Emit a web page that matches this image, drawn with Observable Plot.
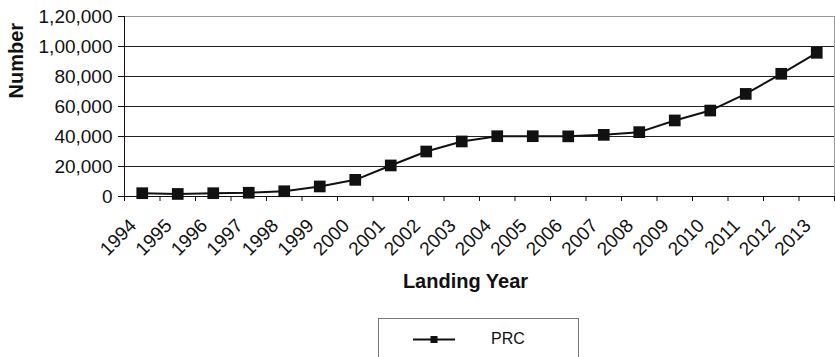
<!DOCTYPE html>
<html>
<head>
<meta charset="utf-8">
<script src="https://cdn.jsdelivr.net/npm/d3@7"></script>
<script src="https://cdn.jsdelivr.net/npm/@observablehq/plot@0.6"></script>
<style>
  html, body { margin: 0; padding: 0; background: #fff; }
  body { width: 835px; height: 357px; overflow: hidden; font-family: "Liberation Sans", Arial, sans-serif; }
  #legend {
    margin-left: 378px; margin-top: 6px; width: 201px; height: 60px;
    border: 1px solid #777; box-sizing: border-box; position: relative;
  }
  #legend svg { position: absolute; left: 0; top: 0; }
  #legend span { position: absolute; left: 112px; top: 11px; font-size: 16px; color: #111; }
</style>
</head>
<body>
<div id="chart"></div>
<div id="legend"></div>
<script>
// Landing years and yearly counts
const years = [1994, 1995, 1996, 1997, 1998, 1999, 2000, 2001, 2002, 2003,
               2004, 2005, 2006, 2007, 2008, 2009, 2010, 2011, 2012, 2013];
const counts = [2200, 1700, 2200, 2500, 3500, 6700, 11100, 20700, 30000, 36700,
                40200, 40200, 40100, 41100, 42900, 50700, 57300, 68400, 81800, 95800];
const seriesName = "PRC";

// Value axis ticks, written with Indian digit grouping
const yTicks = [0, 20000, 40000, 60000, 80000, 100000, 120000];
const yTickLabels = ["0", "20,000", "40,000", "60,000", "80,000", "1,00,000", "1,20,000"];

const data = years.map((year, i) => ({ year, count: counts[i] }));
const yearEdges = d3.range(years[0] - 0.5, years[years.length - 1] + 1, 1);

const font = "'Liberation Sans', Arial, sans-serif";

const chart = Plot.plot({
  width: 835,
  height: 312,
  marginLeft: 124,
  marginRight: 1,
  marginTop: 16,
  marginBottom: 116,
  style: { fontFamily: font, color: "#111", background: "#fff", overflow: "visible" },
  x: { domain: [yearEdges[0], yearEdges[yearEdges.length - 1]], label: null },
  y: { domain: [0, 120000], label: null },
  marks: [
    // horizontal grid and plot border
    Plot.gridY(yTicks.slice(1, -1), { stroke: "#222", strokeOpacity: 1 }),
    Plot.ruleY([yTicks[yTicks.length - 1]], { stroke: "#999" }),
    Plot.ruleX([yearEdges[yearEdges.length - 1]], { stroke: "#999" }),
    // axis lines
    Plot.ruleX([yearEdges[0]], { stroke: "#111" }),
    Plot.ruleY([0], { stroke: "#111" }),
    // value axis
    Plot.axisY({
      ticks: yTicks, tickSize: 6, tickPadding: 6, label: null,
      tickFormat: (d) => yTickLabels[yTicks.indexOf(d)],
      fontSize: 19, stroke: "#111"
    }),
    // year tick marks sit between the years
    Plot.axisX({ ticks: yearEdges, tickSize: 5, tickFormat: () => "", label: null, stroke: "#111" }),
    // rotated year labels
    Plot.axisX({
      ticks: years, tickSize: 0, tickPadding: 23, dx: -9, dy: 3, tickRotate: -45, label: null,
      tickFormat: (d) => String(d), fontSize: 19
    }),
    // axis titles
    Plot.text(["Landing Year"], {
      frameAnchor: "bottom", dx: -14, dy: 91, fontSize: 20, fontWeight: "bold", fill: "#111"
    }),
    Plot.text(["Number"], {
      frameAnchor: "left", rotate: -90, dx: -108, dy: -8, fontSize: 20, fontWeight: "bold", fill: "#111"
    }),
    // series
    Plot.line(data, { x: "year", y: "count", stroke: "#111", strokeWidth: 2 }),
    Plot.dot(data, { x: "year", y: "count", symbol: "square", r: 6.6, fill: "#111", stroke: "none" })
  ]
});
document.getElementById("chart").append(chart);

// Legend swatch: line with a square marker, then the series name
const legend = d3.select("#legend");
const sw = legend.append("svg").attr("width", 199).attr("height", 58);
sw.append("line").attr("x1", 34).attr("x2", 76).attr("y1", 20.5).attr("y2", 20.5)
  .attr("stroke", "#111").attr("stroke-width", 2);
sw.append("rect").attr("x", 51.5).attr("y", 17).attr("width", 7).attr("height", 7).attr("fill", "#111");
legend.append("span").text(seriesName);
</script>
</body>
</html>
